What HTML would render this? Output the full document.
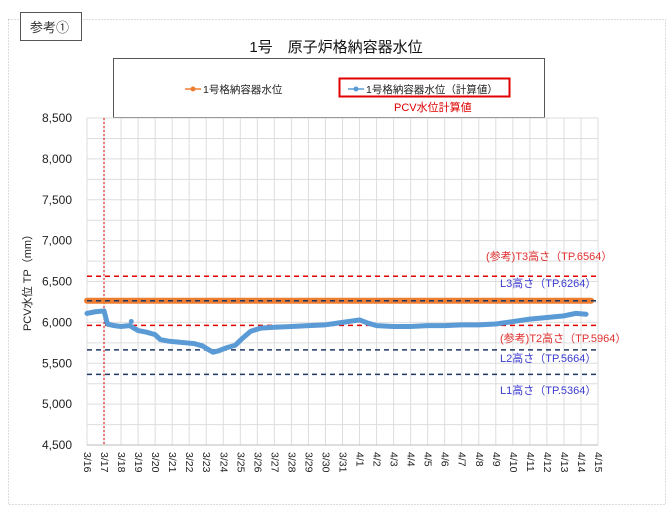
<!DOCTYPE html>
<html><head><meta charset="utf-8"><style>
body{margin:0;background:#fff;}
svg{display:block;font-family:"Liberation Sans","Noto Sans CJK JP",sans-serif;}
</style></head><body>
<svg id="s" width="672" height="521" xmlns="http://www.w3.org/2000/svg">
<rect x="8.5" y="19.5" width="657" height="485" fill="#fff" stroke="#bbb" stroke-dasharray="1,2"/>
<rect x="20.5" y="12.5" width="61" height="28" fill="#fff" stroke="#555"/>
<text x="30" y="32" font-size="13" fill="#333">参考①</text>
<text x="336" y="52" font-size="15" text-anchor="middle" fill="#111">1号　原子炉格納容器水位</text>
<rect x="113.5" y="58.5" width="431" height="59" fill="#fff" stroke="#555"/>
<line x1="185" y1="89" x2="201" y2="89" stroke="#ed7d31" stroke-width="1.5"/><circle cx="193" cy="89" r="2.5" fill="#ed7d31"/>
<text x="203" y="93" font-size="10.5" fill="#222">1号格納容器水位</text>
<rect x="339.5" y="78.5" width="170" height="18" fill="none" stroke="#e00000" stroke-width="2"/>
<line x1="348" y1="89" x2="364" y2="89" stroke="#5b9bd5" stroke-width="1.5"/><circle cx="356" cy="89" r="2.5" fill="#5b9bd5"/>
<text x="366" y="93" font-size="10.5" fill="#222">1号格納容器水位（計算値）</text>
<text x="394" y="111" font-size="11" fill="#e00000">PCV水位計算値</text>
<g id="grid"></g>
<text transform="translate(31,280) rotate(-90)" font-size="11" text-anchor="middle" fill="#222">PCV水位 TP（mm）</text>
</svg>
<script>
const g=document.getElementById('grid');let h='';
const X0=87,X1=598,Y0=118,Y1=445;
const dx=d=>X0+d*(X1-X0)/30, vy=v=>Y0+(8500-v)*(Y1-Y0)/4000;
for(let v=4500;v<=8500;v+=250){const y=vy(v);h+=`<line x1="${X0}" y1="${y}" x2="${X1}" y2="${y}" stroke="#ddd"/>`;}
for(let v=4500;v<=8500;v+=500){h+=`<text x="72" y="${vy(v)+4}" font-size="12" text-anchor="end" fill="#222">${v.toLocaleString('en-US')}</text>`;}
const labs=[];for(let i=16;i<=31;i++)labs.push('3/'+i);for(let i=1;i<=15;i++)labs.push('4/'+i);
for(let d=0;d<=30;d++){const x=dx(d);h+=`<line x1="${x}" y1="${Y0}" x2="${x}" y2="${Y1}" stroke="#ddd"/>`;
h+=`<text transform="translate(${x-3},452) rotate(90)" font-size="10.5" fill="#222">${labs[d]}</text>`;}
h+=`<line x1="${X0}" y1="${Y1}" x2="${X1}" y2="${Y1}" stroke="#bbb"/>`;
h+=`<line x1="104" y1="${Y0}" x2="104" y2="${Y1}" stroke="#e00000" stroke-dasharray="2,2"/>`;
const hl=(v,c)=>h+=`<line x1="${X0}" y1="${vy(v)}" x2="${X1}" y2="${vy(v)}" stroke="${c}" stroke-width="1.5" stroke-dasharray="5,4"/>`;
h+=`<line x1="${X0}" y1="${vy(6264)}" x2="${dx(29.6)}" y2="${vy(6264)}" stroke="#ed7d31" stroke-width="6" stroke-linecap="round"/>`;
hl(6564,'#e00000');hl(5964,'#e00000');hl(6264,'#1f3864');hl(5664,'#1f3864');hl(5364,'#1f3864');
const pts=[[0,6110],[0.5,6130],[1,6140],[1.2,5980],[1.6,5960],[2,5950],[2.5,5960],[3,5900],[3.5,5880],[4,5850],[4.3,5790],[4.8,5770],[5.3,5760],[5.8,5750],[6.3,5740],[6.8,5710],[7.1,5670],[7.4,5635],[7.7,5650],[8.2,5690],[8.7,5720],[9.1,5800],[9.6,5890],[10.2,5930],[11,5940],[12,5950],[13,5960],[14,5970],[15,6000],[16,6030],[16.5,5990],[17,5960],[18,5950],[19,5950],[20,5960],[21,5960],[22,5970],[23,5970],[24,5980],[25,6010],[26,6040],[27,6060],[28,6080],[28.7,6110],[29.3,6100]];
h+=`<polyline points="${pts.map(p=>dx(p[0])+','+vy(p[1])).join(' ')}" fill="none" stroke="#5b9bd5" stroke-width="5" stroke-linejoin="round" stroke-linecap="round"/>`;
h+=`<circle cx="${dx(2.6)}" cy="${vy(6010)}" r="2.5" fill="#5b9bd5"/>`;
const t=(x,y,s,c)=>h+=`<text x="${x}" y="${y}" font-size="11" fill="${c}">${s}</text>`;
t(486,260,'(参考)T3高さ（TP.6564）','#e03030');t(500,287,'L3高さ（TP.6264）','#3a3ad0');
t(500,342,'(参考)T2高さ（TP.5964）','#e03030');t(500,362,'L2高さ（TP.5664）','#3a3ad0');t(500,394,'L1高さ（TP.5364）','#3a3ad0');
g.innerHTML=h;
</script>
</body></html>
